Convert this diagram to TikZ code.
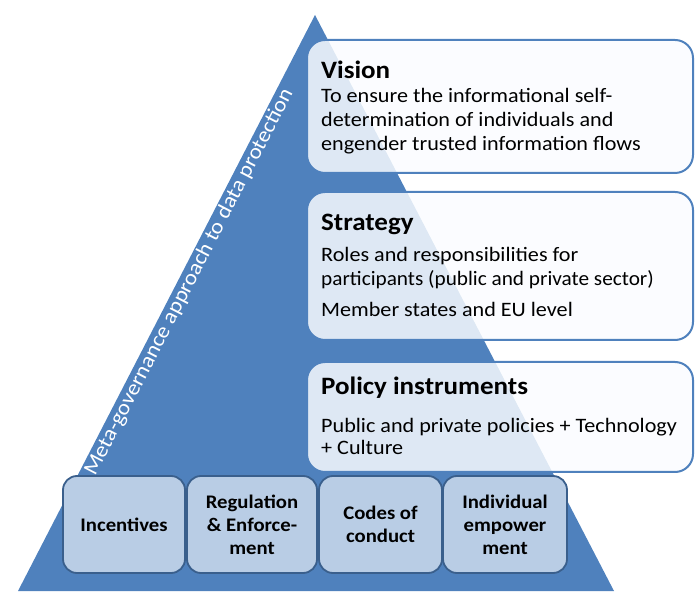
\documentclass[tikz,border=0pt]{standalone}
\usepackage{fontspec}
\setmainfont{Carlito}[FakeStretch=1.08]
\definecolor{triblue}{RGB}{79,129,189}
\definecolor{boxline}{RGB}{79,129,189}
\definecolor{cellfill}{RGB}{185,205,229}
\definecolor{cellline}{RGB}{58,95,140}
\definecolor{boxfill}{RGB}{250,252,255}
\tikzset{
  topbox/.style={draw=boxline, line width=2pt, fill=boxfill, fill opacity=0.84,
    rounded corners=18pt, inner sep=0pt},
  cell/.style={draw=cellline, line width=1.8pt, fill=cellfill, rounded corners=14pt,
    inner sep=0pt, align=center, font=\fontsize{19.2}{23}\selectfont\bfseries, text=black},
  head/.style={anchor=base west, inner sep=0pt, font=\fontsize{25}{30}\selectfont\bfseries, text=black},
  body/.style={anchor=base west, inner sep=0pt, font=\fontsize{20.5}{24}\selectfont, text=black}
}
\begin{document}
\begin{tikzpicture}[x=1pt,y=1pt]
\useasboundingbox (0,0) rectangle (695,591);
% pyramid
\path[fill=triblue] (315,576) coordinate (apex) -- (18,0) coordinate (bl) -- (614,0) coordinate (br) -- cycle;
% rotated side label
\node[anchor=base west, inner sep=0pt, rotate=62.72, text=white,
      font=\fontsize{21.3}{25}\selectfont] (meta) at (95,114) {Meta-governance approach to data protection};
% top boxes
\node[topbox, minimum width=386pt, minimum height=133pt] (vision) at (500,484.5) {};
\node[topbox, minimum width=386pt, minimum height=148pt] (strategy) at (500,325) {};
\node[topbox, minimum width=386pt, minimum height=110pt] (policy) at (500,174) {};
% vision texts
\node[head] (vh) at (321,512) {Vision};
\node[body] (v1) at (321,488) {To ensure the informational self-};
\node[body] (v2) at (321,464) {determination of individuals and};
\node[body] (v3) at (321,440) {engender trusted information flows};
% strategy texts
\node[head] (sh) at (321,360) {Strategy};
\node[body] (s1) at (321,329) {Roles and responsibilities for};
\node[body] (s2) at (321,305) {\scalebox{0.96}[1]{participants (public and private sector)}};
\node[body] (s3) at (321,274) {Member states and EU level};
% policy texts
\node[head] (ph) at (321,196) {Policy instruments};
\node[body] (p1) at (321,158) {Public and private policies + Technology};
\node[body] (p2) at (321,136) {+ Culture};
% bottom cells
\node[cell, minimum width=122pt, minimum height=97pt] (inc) at (124,66.5) {Incentives};
\node[cell, minimum width=130pt, minimum height=97pt] (reg) at (252,66.5) {Regulation\\\& Enforce-\\ment};
\node[cell, minimum width=123pt, minimum height=97pt] (codes) at (380.5,66.5) {Codes of\\conduct};
\node[cell, minimum width=124pt, minimum height=97pt] (indiv) at (505,66.5) {Individual\\empower\\ment};
\end{tikzpicture}
\end{document}
